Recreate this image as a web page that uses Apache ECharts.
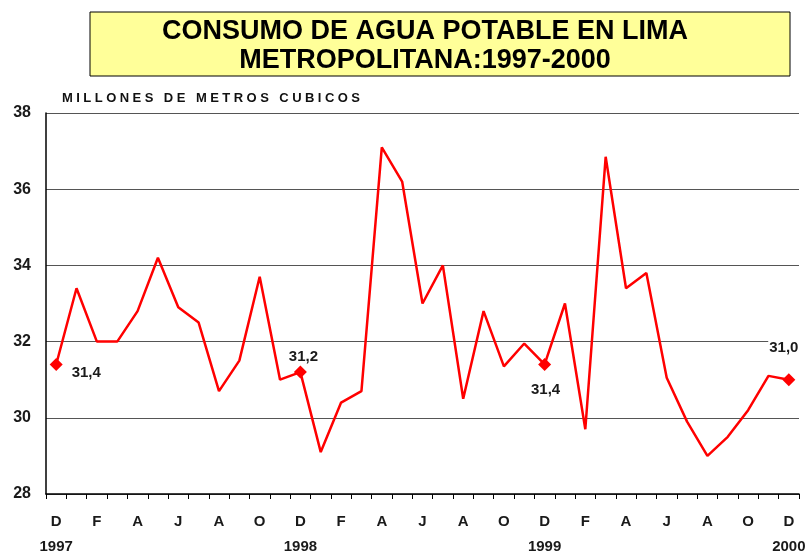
<!DOCTYPE html>
<html>
<head>
<meta charset="utf-8">
<script src="https://cdn.jsdelivr.net/npm/echarts@6/dist/echarts.min.js"></script>
<style>
    html, body { margin: 0; padding: 0; background: #fff; }
    #chart { width: 806px; height: 551px; }
</style>
</head>
<body>
<div id="chart"></div>
<script>
// meses de dic-1997 a dic-2000
let months = ['D','E','F','M','A','M','J','J','A','S','O','N',
              'D','E','F','M','A','M','J','J','A','S','O','N',
              'D','E','F','M','A','M','J','J','A','S','O','N','D'];
let years = ['1997', '1998', '1999', '2000'];   // bajo cada diciembre
let consumo = [31.4, 33.4, 32.0, 32.0, 32.8, 34.2, 32.9, 32.5, 30.7, 31.5, 33.7, 31.0,
               31.2, 29.1, 30.4, 30.7, 37.1, 36.2, 33.0, 34.0, 30.5, 32.8, 31.35, 31.95,
               31.4, 33.0, 29.7, 36.85, 33.4, 33.8, 31.05, 29.9, 29.0, 29.5, 30.2, 31.1, 31.0];
let marcados = [0, 12, 24, 36];
let yTicks = [28, 30, 32, 34, 36, 38];
let unidad = 'MILLONES DE METROS CUBICOS';

// posicion de cada etiqueta de valor
let labelPos = {
    0: { position: 'right', offset: [3, 8] },
    12: { position: 'top', offset: [3, 4] },
    24: { position: 'bottom', offset: [1, 6] },
    36: { position: 'top', offset: [-5, -13] },
};

let data = consumo.map((v, i) => {
    if (marcados.indexOf(i) < 0) return v;
    let p = labelPos[i];
    return {
        value: v,
        symbol: 'diamond',
        symbolSize: 13,
        itemStyle: { color: '#ff0000' },
        label: {
            show: true,
            position: p.position,
            offset: p.offset,
            formatter: (d) => d.value.toFixed(1).replace('.', ','),
            color: '#1a1a1a',
            fontFamily: 'Liberation Sans',
            fontWeight: 'bold',
            fontSize: 15,
            backgroundColor: '#fff',
            padding: [0, 1],
        }
    };
});

// subtitulo espaciado: una letra por elemento
let ctx = document.createElement('canvas').getContext('2d');
let unitFont = 'bold 13px "Liberation Sans"';
ctx.font = unitFont;
let spacing = (298 - ctx.measureText(unidad).width) / (unidad.length - 1);
let letters = [];
let cx = 62;
for (let ch of unidad) {
    if (ch !== ' ') {
        letters.push({
            type: 'text',
            x: cx,
            y: 92,
            style: { text: ch, fill: '#111', font: unitFont }
        });
    }
    cx += ctx.measureText(ch).width + spacing;
}

let option = {
    animation: false,
    backgroundColor: '#ffffff',
    title: {
        text: 'CONSUMO DE AGUA POTABLE EN LIMA\nMETROPOLITANA:1997-2000',
        left: 420,
        top: 12,
        textAlign: 'center',
        textStyle: {
            color: '#000',
            fontFamily: 'Liberation Sans',
            fontWeight: 'bold',
            fontSize: 27,
            lineHeight: 29,
        }
    },
    graphic: [
        {
            type: 'rect',
            z: -1,
            shape: { x: 90, y: 12, width: 700, height: 64 },
            style: { fill: '#ffff99', stroke: '#000', lineWidth: 1 }
        },
        {
            type: 'group',
            children: letters
        }
    ],
    grid: {
        left: 46,
        right: 7,
        top: 113,
        bottom: 57,
        outerBoundsMode: 'none',
        containLabel: false,
    },
    xAxis: {
        type: 'category',
        data: months,
        boundaryGap: true,
        axisLine: { lineStyle: { color: '#000', width: 1.5 } },
        axisTick: {
            show: true,
            interval: 0,
            length: 5,
            lineStyle: { color: '#000', width: 1 }
        },
        axisLabel: {
            interval: 1,
            margin: 15,
            color: '#1a1a1a',
            fontFamily: 'Liberation Sans',
            fontWeight: 'bold',
            fontSize: 15,
            lineHeight: 25,
            formatter: function (val, idx) {
                if (idx % 12 === 0) return val + '\n' + years[idx / 12];
                return val;
            }
        },
        splitLine: { show: false },
    },
    yAxis: {
        type: 'value',
        min: yTicks[0],
        max: yTicks[yTicks.length - 1],
        interval: 2,
        axisLine: { show: true, lineStyle: { color: '#000', width: 1.5 } },
        axisTick: { show: false },
        axisLabel: {
            margin: 15,
            color: '#1a1a1a',
            fontFamily: 'Liberation Sans',
            fontWeight: 'bold',
            fontSize: 16,
        },
        splitLine: { lineStyle: { color: '#555', width: 1.2 } },
    },
    series: [
        {
            type: 'line',
            data: data,
            symbol: 'none',
            showSymbol: true,
            lineStyle: { color: '#ff0000', width: 2.5 },
            itemStyle: { color: '#ff0000' },
        }
    ]
};

let chart = echarts.init(document.getElementById('chart'));
chart.setOption(option);
</script>
</body>
</html>
